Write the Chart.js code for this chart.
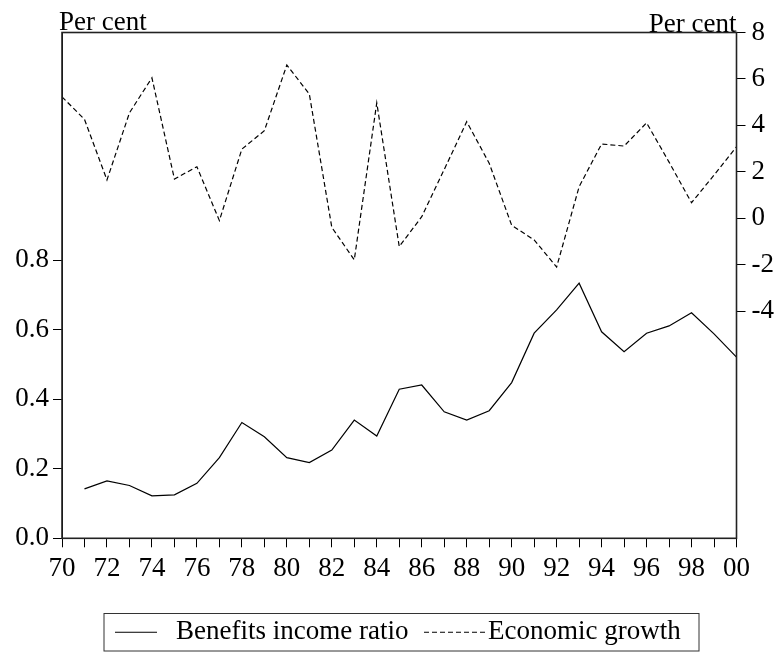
<!DOCTYPE html>
<html>
<head>
<meta charset="utf-8">
<script src="https://cdn.jsdelivr.net/npm/chart.js@4/dist/chart.umd.min.js"></script>
<style>
  html, body { margin: 0; padding: 0; background: #fff; }
  #wrap { width: 777px; height: 653px; }
</style>
</head>
<body>
<div id="wrap"><canvas id="c" width="777" height="653"></canvas></div>
<script>
// Annual observations, 1970-2000
const years = [1970, 1971, 1972, 1973, 1974, 1975, 1976, 1977, 1978, 1979,
               1980, 1981, 1982, 1983, 1984, 1985, 1986, 1987, 1988, 1989,
               1990, 1991, 1992, 1993, 1994, 1995, 1996, 1997, 1998, 1999, 2000];

// Benefits income ratio (left axis)
const benefitsRatio = [null, 0.142, 0.165, 0.152, 0.122, 0.125, 0.158, 0.232, 0.333, 0.292,
                       0.232, 0.218, 0.254, 0.340, 0.294, 0.429, 0.441, 0.364, 0.340, 0.367,
                       0.448, 0.590, 0.657, 0.734, 0.594, 0.537, 0.590, 0.611, 0.649, 0.588, 0.521];

// Economic growth, per cent (right axis)
const economicGrowth = [5.23, 4.26, 1.65, 4.54, 6.05, 1.69, 2.22, -0.10, 2.98, 3.77,
                        6.60, 5.35, -0.39, -1.79, 4.97, -1.22, 0.07, 2.10, 4.16, 2.37,
                        -0.30, -0.93, -2.10, 1.36, 3.20, 3.11, 4.11, 2.42, 0.67, 1.86, 3.08];

const leftTicks = [0, 0.2, 0.4, 0.6, 0.8];
const rightTicks = [-4, -2, 0, 2, 4, 6, 8];
const seriesNames = ['Benefits income ratio', 'Economic growth'];
const unitLabel = 'Per cent';

const FONT = '"Liberation Serif", "Times New Roman", serif';
const tickFont = { family: FONT, size: 27 };

function axisGrid() {
  return {
    display: true,
    drawOnChartArea: false,
    drawTicks: true,
    tickLength: 9,
    tickColor: '#000',
    tickWidth: 1,
    color: '#000'
  };
}

// Frame, unit captions and boxed legend
const frameAndText = {
  id: 'frameAndText',
  afterDraw(chart) {
    const { ctx, chartArea: a } = chart;
    ctx.save();
    ctx.strokeStyle = '#222';
    ctx.lineWidth = 1.6;
    ctx.strokeRect(a.left, a.top, a.right - a.left, a.bottom - a.top);

    ctx.fillStyle = '#000';
    ctx.font = '27px ' + FONT;
    ctx.textBaseline = 'alphabetic';
    ctx.textAlign = 'left';
    ctx.fillText(unitLabel, a.left - 3, a.top - 3);
    ctx.textAlign = 'right';
    ctx.fillText(unitLabel, a.right, a.top - 1);

    // legend
    const ds = chart.data.datasets;
    const boxL = 104, boxR = 699, boxT = 613.5, boxB = 651;
    const midY = (boxT + boxB) / 2;
    ctx.lineWidth = 1;
    ctx.strokeStyle = '#333';
    ctx.strokeRect(boxL, boxT, boxR - boxL, boxB - boxT);
    ctx.font = '27px ' + FONT;
    ctx.textAlign = 'left';
    ctx.textBaseline = 'middle';
    const samples = [[115, 157, 176], [424, 485, 488]];
    ds.forEach((d, i) => {
      const [x0, x1, tx] = samples[i];
      ctx.beginPath();
      ctx.setLineDash(d.borderDash || []);
      ctx.strokeStyle = '#000';
      ctx.moveTo(x0, midY);
      ctx.lineTo(x1, midY);
      ctx.stroke();
      ctx.setLineDash([]);
      ctx.fillText(d.label, tx, midY);
    });
    ctx.restore();
  }
};

new Chart(document.getElementById('c'), {
  type: 'line',
  data: {
    labels: years,
    datasets: [
      {
        label: seriesNames[0],
        data: benefitsRatio,
        yAxisID: 'yL',
        borderColor: '#000',
        borderWidth: 1.2,
        pointRadius: 0,
        tension: 0,
        spanGaps: false
      },
      {
        label: seriesNames[1],
        data: economicGrowth,
        yAxisID: 'yR',
        borderColor: '#000',
        borderWidth: 1.2,
        borderDash: [5, 3],
        pointRadius: 0,
        tension: 0
      }
    ]
  },
  options: {
    responsive: false,
    animation: false,
    devicePixelRatio: 1,
    layout: { padding: { top: 32.5, left: 0, right: 0, bottom: 0 } },
    plugins: { legend: { display: false }, tooltip: { enabled: false } },
    scales: {
      x: {
        type: 'category',
        offset: false,
        grid: axisGrid(),
        border: { display: true, color: '#000', width: 1 },
        ticks: {
          autoSkip: false,
          maxRotation: 0,
          minRotation: 0,
          padding: 5,
          color: '#000',
          font: tickFont,
          callback: (v, i) => (years[i] % 2 === 0 ? String(years[i]).slice(2) : '')
        },
        afterFit: s => { s.height = 114.7; }
      },
      yL: {
        position: 'left',
        min: 0,
        max: 1.455,
        grid: axisGrid(),
        border: { display: true, color: '#000', width: 1 },
        afterBuildTicks: s => { s.ticks = leftTicks.map(v => ({ value: v })); },
        ticks: {
          padding: 4,
          color: '#000',
          font: tickFont,
          callback: v => Number(v).toFixed(1)
        },
        afterFit: s => { s.width = 62; }
      },
      yR: {
        position: 'right',
        min: -13.78,
        max: 8,
        grid: axisGrid(),
        border: { display: true, color: '#000', width: 1 },
        afterBuildTicks: s => { s.ticks = rightTicks.map(v => ({ value: v })); },
        ticks: {
          padding: 6,
          color: '#000',
          font: tickFont,
          callback: v => String(v)
        },
        afterFit: s => { s.width = 40.5; }
      }
    }
  },
  plugins: [frameAndText]
});
</script>
</body>
</html>
